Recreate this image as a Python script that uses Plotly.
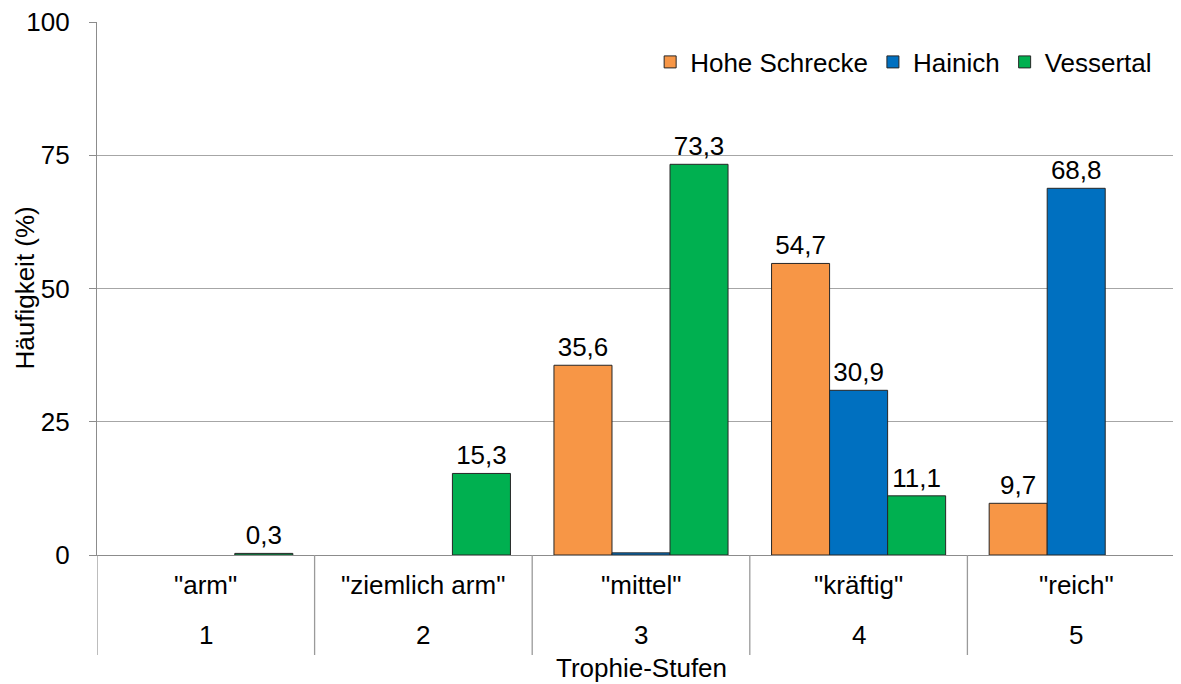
import plotly.graph_objects as go

categories = ['"arm"', '"ziemlich arm"', '"mittel"', '"kräftig"', '"reich"']
levels = ["1", "2", "3", "4", "5"]
series_names = ["Hohe Schrecke", "Hainich", "Vessertal"]
hohe_schrecke = [None, None, 35.6, 54.7, 9.7]
hainich = [None, None, 0.4, 30.9, 68.8]
vessertal = [0.3, 15.3, 73.3, 11.1, None]
hohe_labels = ["", "", "35,6", "54,7", "9,7"]
hainich_labels = ["", "", "", "30,9", "68,8"]
vessertal_labels = ["0,3", "15,3", "73,3", "11,1", ""]
colors = ["#F79646", "#0070C0", "#00B050"]
y_ticks = [0, 25, 50, 75, 100]

FONT = "Liberation Sans, Arial, sans-serif"
FS = 26

fig = go.Figure()
for name, vals, labs, col in zip(series_names, [hohe_schrecke, hainich, vessertal],
                                 [hohe_labels, hainich_labels, vessertal_labels], colors):
    fig.add_trace(go.Bar(
        x=categories, y=vals, name=name, text=labs, textposition="outside",
        textfont=dict(size=FS, color="#000000", family=FONT),
        marker=dict(color=col, line=dict(color="#262626", width=1)),
        cliponaxis=False,
    ))

# page has an 8px body margin; compensate
W, H = 1173, 676
L, T, B = 89, 14, 129
plot_w = W - L
cat_w = 217.6
xmax = -0.5 + plot_w / cat_w
plot_h = H - T - B

shapes = []
for i in range(len(categories)):
    shapes.append(dict(type="line", xref="x", yref="paper", x0=i - 0.5, x1=i - 0.5,
                       y0=0, y1=-100 / plot_h, line=dict(color="#9a9a9a", width=1.3)))

annotations = []
for c, lv in zip(categories, levels):
    annotations.append(dict(x=c, y=0, xref="x", yref="paper", text=c, showarrow=False,
                            yanchor="middle", yshift=-30, font=dict(size=FS, color="#000", family=FONT)))
    annotations.append(dict(x=c, y=0, xref="x", yref="paper", text=lv, showarrow=False,
                            yanchor="middle", yshift=-80, font=dict(size=FS, color="#000", family=FONT)))
annotations.append(dict(x=0, y=0, xref="x domain", yref="paper", text="Trophie-Stufen",
                        showarrow=False, xanchor="center", yanchor="middle",
                        xshift=(1185 - 97) / 2, yshift=-113,
                        font=dict(size=FS, color="#000", family=FONT)))
annotations.append(dict(x=0, y=0.5, xref="paper", yref="paper", text="Häufigkeit (%)",
                        showarrow=False, textangle=-90, xanchor="center", yanchor="middle",
                        xshift=-73, font=dict(size=FS, color="#000", family=FONT)))

fig.update_layout(
    width=W, height=H,
    margin=dict(l=L, r=0, t=T, b=B, autoexpand=False),
    paper_bgcolor="white", plot_bgcolor="white",
    barmode="group", bargap=0.2, bargroupgap=0,
    font=dict(family=FONT, size=FS, color="#000"),
    showlegend=True,
    legend=dict(orientation="h", x=0.978, xanchor="right", y=(555 - 62) / (555 - 22), yanchor="middle",
                font=dict(size=FS, family=FONT, color="#000"), itemwidth=30,
                bgcolor="rgba(0,0,0,0)", traceorder="normal"),
    shapes=shapes, annotations=annotations,
    xaxis=dict(type="category", range=[-0.5, xmax], showticklabels=False, ticks="",
               showline=True, linecolor="#8c8c8c", linewidth=1.3, showgrid=False, zeroline=False,
               fixedrange=True),
    yaxis=dict(range=[0, 100], tickvals=y_ticks, ticks="outside", ticklen=7, tickcolor="#8c8c8c",
               tickwidth=1.3, showline=True, linecolor="#8c8c8c", linewidth=1.3,
               showgrid=True, gridcolor="#a6a6a6", gridwidth=1.3, zeroline=False,
               tickfont=dict(size=FS, family=FONT, color="#000"), ticklabelstandoff=14,
               ticklabeloverflow="allow"),
)

fig.write_html("out.html")
